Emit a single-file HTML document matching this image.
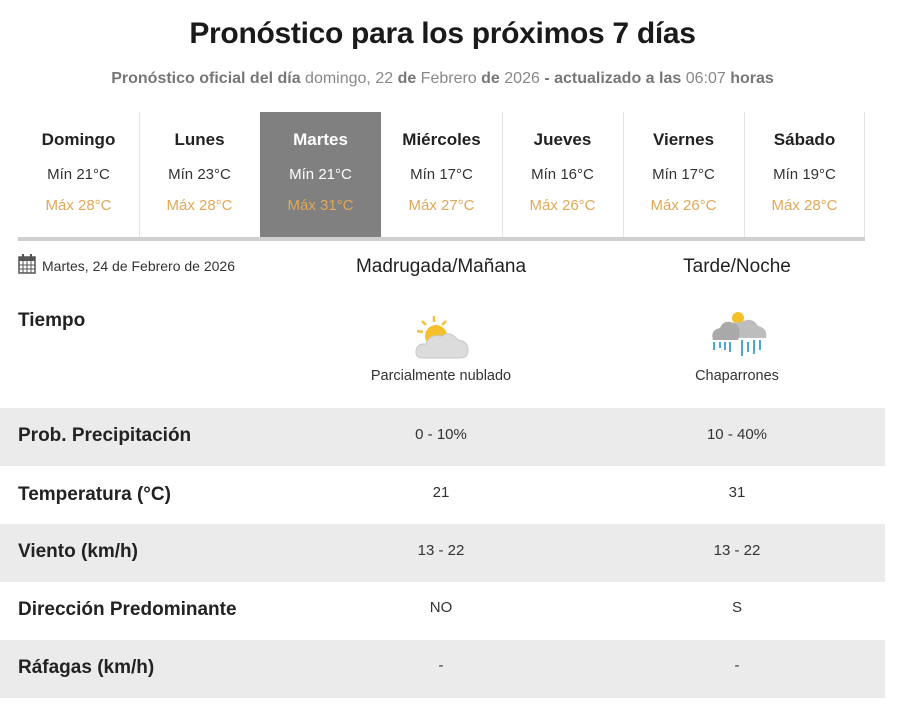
<!DOCTYPE html>
<html><head><meta charset="utf-8"><style>
body{margin:0;width:900px;height:717px;background:#fff;font-family:"Liberation Sans",sans-serif;position:relative;overflow:hidden;color:#222}
.a{position:absolute}
h1{position:absolute;top:17px;left:0;width:885px;text-align:center;margin:0;font-size:30px;font-weight:bold;color:#1a1a1a;letter-spacing:-0.3px}
.sub{top:70px;left:0;width:885px;text-align:center;font-size:16px;color:#888}
.sub b{color:#777}
.day{position:absolute;top:112px;width:121px;height:125px;text-align:center}
.day .n{margin-top:18px;font-size:17px;font-weight:bold;color:#222}
.day .mi{margin-top:16px;font-size:15px;color:#333}
.day .ma{margin-top:14px;font-size:15px;color:#e0a858}
.sel{background:#808080}
.sel .n,.sel .mi{color:#fff}
.sep{position:absolute;top:112px;width:1px;height:125px;background:#e4e4e4}
.row{position:absolute;left:0;width:885px;height:58px}
.g{background:#ebebeb}
.lab{position:absolute;left:18px;font-size:19px;font-weight:bold;color:#222}
.v{position:absolute;width:300px;text-align:center;font-size:15px;color:#333}
</style></head><body>
<h1>Pronóstico para los próximos 7 días</h1>
<div class="a sub"><b>Pronóstico oficial del día</b> domingo, 22 <b>de</b> Febrero <b>de</b> 2026 <b>- actualizado a las</b> 06:07 <b>horas</b></div>

<div class="day" style="left:18px"><div class="n">Domingo</div><div class="mi">Mín 21°C</div><div class="ma">Máx 28°C</div></div>
<div class="day" style="left:139px"><div class="n">Lunes</div><div class="mi">Mín 23°C</div><div class="ma">Máx 28°C</div></div>
<div class="day sel" style="left:260px"><div class="n">Martes</div><div class="mi">Mín 21°C</div><div class="ma">Máx 31°C</div></div>
<div class="day" style="left:381px"><div class="n">Miércoles</div><div class="mi">Mín 17°C</div><div class="ma">Máx 27°C</div></div>
<div class="day" style="left:502px"><div class="n">Jueves</div><div class="mi">Mín 16°C</div><div class="ma">Máx 26°C</div></div>
<div class="day" style="left:623px"><div class="n">Viernes</div><div class="mi">Mín 17°C</div><div class="ma">Máx 26°C</div></div>
<div class="day" style="left:744px"><div class="n">Sábado</div><div class="mi">Mín 19°C</div><div class="ma">Máx 28°C</div></div>
<div class="sep" style="left:139px"></div><div class="sep" style="left:502px"></div><div class="sep" style="left:623px"></div><div class="sep" style="left:744px"></div><div class="sep" style="left:864px"></div>
<div class="a" style="left:18px;top:237px;width:847px;height:4px;background:#d0d0d0"></div>

<svg class="a" style="left:18px;top:254px" width="18" height="20"><rect x="1" y="3" width="16" height="16" fill="none" stroke="#555" stroke-width="1.5"/><rect x="1" y="3" width="16" height="4" fill="#555"/><path d="M1 11H17M1 15H17M5 7V19M9 7V19M13 7V19" stroke="#555"/><rect x="4" y="0" width="2" height="5" fill="#555"/><rect x="12" y="0" width="2" height="5" fill="#555"/></svg>
<div class="a" style="left:42px;top:258px;font-size:14px;color:#333">Martes, 24 de Febrero de 2026</div>
<div class="a" style="left:291px;width:300px;text-align:center;top:256px;font-size:19px;color:#222">Madrugada/Mañana</div>
<div class="a" style="left:587px;width:300px;text-align:center;top:256px;font-size:19px;color:#222">Tarde/Noche</div>

<div class="lab" style="top:310px">Tiempo</div>
<svg class="a" style="left:412px;top:312px" width="60" height="48">
<g stroke="#f2c23a" stroke-width="2.5"><line x1="22" y1="4" x2="22" y2="10"/><line x1="10" y1="9" x2="14" y2="13"/><line x1="34" y1="9" x2="30" y2="13"/><line x1="5" y1="19" x2="11" y2="20"/></g>
<circle cx="24" cy="24" r="11" fill="#f5c02a"/>
<path d="M10 46 Q3 46 4 38 Q6 31 14 32 Q17 22 30 24 Q38 18 46 28 Q56 29 56 38 Q56 46 48 46 Z" fill="#dcdcdc" stroke="#c8c8c8"/>
</svg>
<div class="v" style="left:291px;top:368px;font-size:14.5px">Parcialmente nublado</div>
<svg class="a" style="left:708px;top:308px" width="60" height="54">
<circle cx="30" cy="10" r="6" fill="#f5c02a"/>
<path d="M20 30 Q18 14 34 14 Q44 8 50 18 Q60 20 58 30 Z" fill="#bdbdbd"/>
<path d="M5 32 Q2 22 12 20 Q16 10 28 16 Q34 22 30 32 Z" fill="#a9a9a9"/>
<g stroke="#4aa8d0" stroke-width="2"><line x1="6" y1="34" x2="6" y2="42"/><line x1="12" y1="34" x2="12" y2="40"/><line x1="17" y1="34" x2="17" y2="42"/><line x1="22" y1="34" x2="22" y2="44"/><line x1="34" y1="32" x2="34" y2="48"/><line x1="40" y1="34" x2="40" y2="44"/><line x1="46" y1="32" x2="46" y2="46"/><line x1="52" y1="32" x2="52" y2="42"/></g>
</svg>
<div class="v" style="left:587px;top:368px;font-size:14.5px">Chaparrones</div>

<div class="row g" style="top:408px"></div>
<div class="row g" style="top:524px"></div>
<div class="row g" style="top:640px"></div>

<div class="lab" style="top:425px">Prob. Precipitación</div>
<div class="v" style="left:291px;top:426px">0 - 10%</div><div class="v" style="left:587px;top:426px">10 - 40%</div>
<div class="lab" style="top:484px">Temperatura (°C)</div>
<div class="v" style="left:291px;top:484px">21</div><div class="v" style="left:587px;top:484px">31</div>
<div class="lab" style="top:541px">Viento (km/h)</div>
<div class="v" style="left:291px;top:542px">13 - 22</div><div class="v" style="left:587px;top:542px">13 - 22</div>
<div class="lab" style="top:599px">Dirección Predominante</div>
<div class="v" style="left:291px;top:599px">NO</div><div class="v" style="left:587px;top:599px">S</div>
<div class="lab" style="top:657px">Ráfagas (km/h)</div>
<div class="v" style="left:291px;top:657px">-</div><div class="v" style="left:587px;top:657px">-</div>
</body></html>
